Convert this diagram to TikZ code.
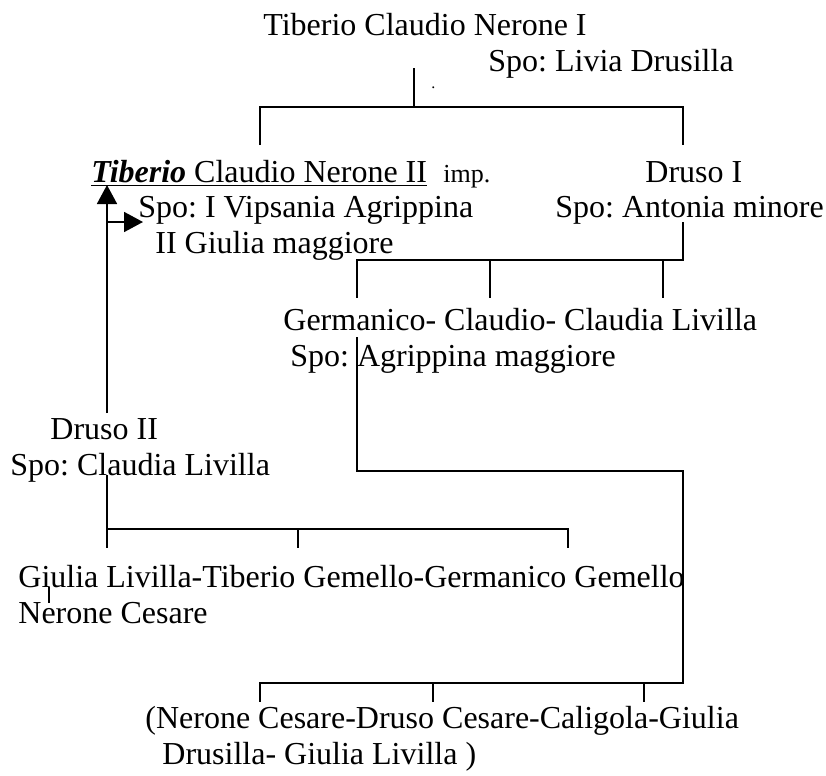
\documentclass[tikz,border=0pt]{standalone}
\usepackage{fontspec}
\setmainfont{Liberation Serif}
\usetikzlibrary{arrows.meta}
\frenchspacing

\begin{document}
\begin{tikzpicture}[x=0.5pt,y=-0.5pt,
  persona/.style={anchor=base west,inner sep=0pt,font=\fontsize{16}{19}\selectfont},
  ramo/.style={line width=0.9pt},
  freccia/.style={ramo,-{Triangle[length=9.5pt,width=10pt]}}]
  \useasboundingbox (0,0) rectangle (826,776);

  % persone
  \node[persona] (tib1) at (263,35) {Tiberio Claudio Nerone I};
  \node[persona] (tib1spo) at (488,71) {Spo: Livia Drusilla};
  \node[persona,font=\fontsize{8}{9}\selectfont] (punto) at (431,89) {.};
  \node[persona] (tib2) at (91,182) {\underline{\textbf{\textit{Tiberio}} Claudio Nerone II}};
  \node[persona,font=\fontsize{13}{15}\selectfont] (imp) at (443,182) {imp.};
  \node[persona] (tib2spo) at (138,217) {Spo: I Vipsania Agrippina};
  \node[persona] (tib2spob) at (155,253) {II Giulia maggiore};
  \node[persona] (dru1) at (645,182) {Druso I};
  \node[persona] (dru1spo) at (555,217) {Spo: Antonia minore};
  \node[persona] (germ) at (283,330) {Germanico- Claudio- Claudia Livilla};
  \node[persona] (germspo) at (290,366) {Spo: Agrippina maggiore};
  \node[persona] (dru2) at (50,439) {Druso II};
  \node[persona] (dru2spo) at (10,475) {Spo: Claudia Livilla};
  \node[persona] (figli2) at (18,587) {Giulia Livilla-Tiberio Gemello-Germanico Gemello};
  \node[persona] (figli2b) at (18,623) {Nerone Cesare};
  \node[persona] (figli3) at (145,728) {(Nerone Cesare-Druso Cesare-Caligola-Giulia};
  \node[persona] (figli3b) at (162,764) {Drusilla- Giulia Livilla )};

  % rami
  \coordinate (t0) at (414,68);   \coordinate (t1) at (414,107);
  \coordinate (tl) at (260,107);  \coordinate (tr) at (683,107);
  \coordinate (tla) at (260,145); \coordinate (tra) at (683,145);
  \draw[ramo] (t0) -- (t1);
  \draw[ramo] (tla) -- (tl) -- (tr) -- (tra);

  \coordinate (d0) at (683,222);  \coordinate (d1) at (683,260);
  \coordinate (dl) at (357,260);
  \coordinate (dla) at (357,298); \coordinate (dm) at (490,260);
  \coordinate (dma) at (490,298); \coordinate (dr) at (663,260);
  \coordinate (dra) at (663,298);
  \draw[ramo] (d0) -- (d1) -- (dl) -- (dla);
  \draw[ramo] (dm) -- (dma);
  \draw[ramo] (dr) -- (dra);

  \coordinate (g0) at (357,337);  \coordinate (g1) at (357,471);
  \coordinate (g2) at (683,471);  \coordinate (g3) at (683,683);
  \coordinate (gl) at (260,683);  \coordinate (gla) at (260,702);
  \coordinate (gm) at (433,683);  \coordinate (gma) at (433,702);
  \coordinate (gr) at (644,683);  \coordinate (gra) at (644,702);
  \draw[ramo] (g0) -- (g1) -- (g2) -- (g3) -- (gl) -- (gla);
  \draw[ramo] (gm) -- (gma);
  \draw[ramo] (gr) -- (gra);

  \coordinate (s0) at (107,413);  \coordinate (s1) at (107,185);
  \coordinate (s2) at (107,222);  \coordinate (s3) at (143,222);
  \draw[freccia] (s0) -- (s1);
  \draw[freccia] (s2) -- (s3);

  \coordinate (c0) at (107,475);  \coordinate (c1) at (107,529);
  \coordinate (cr) at (568,529);  \coordinate (cra) at (568,548);
  \coordinate (ca) at (107,548);
  \coordinate (cm) at (298,529);  \coordinate (cma) at (298,548);
  \draw[ramo] (c0) -- (ca);
  \draw[ramo] (c1) -- (cr) -- (cra);
  \draw[ramo] (cm) -- (cma);

  \coordinate (n0) at (49,587);   \coordinate (n1) at (49,603);
  \draw[ramo] (n0) -- (n1);
\end{tikzpicture}
\end{document}
